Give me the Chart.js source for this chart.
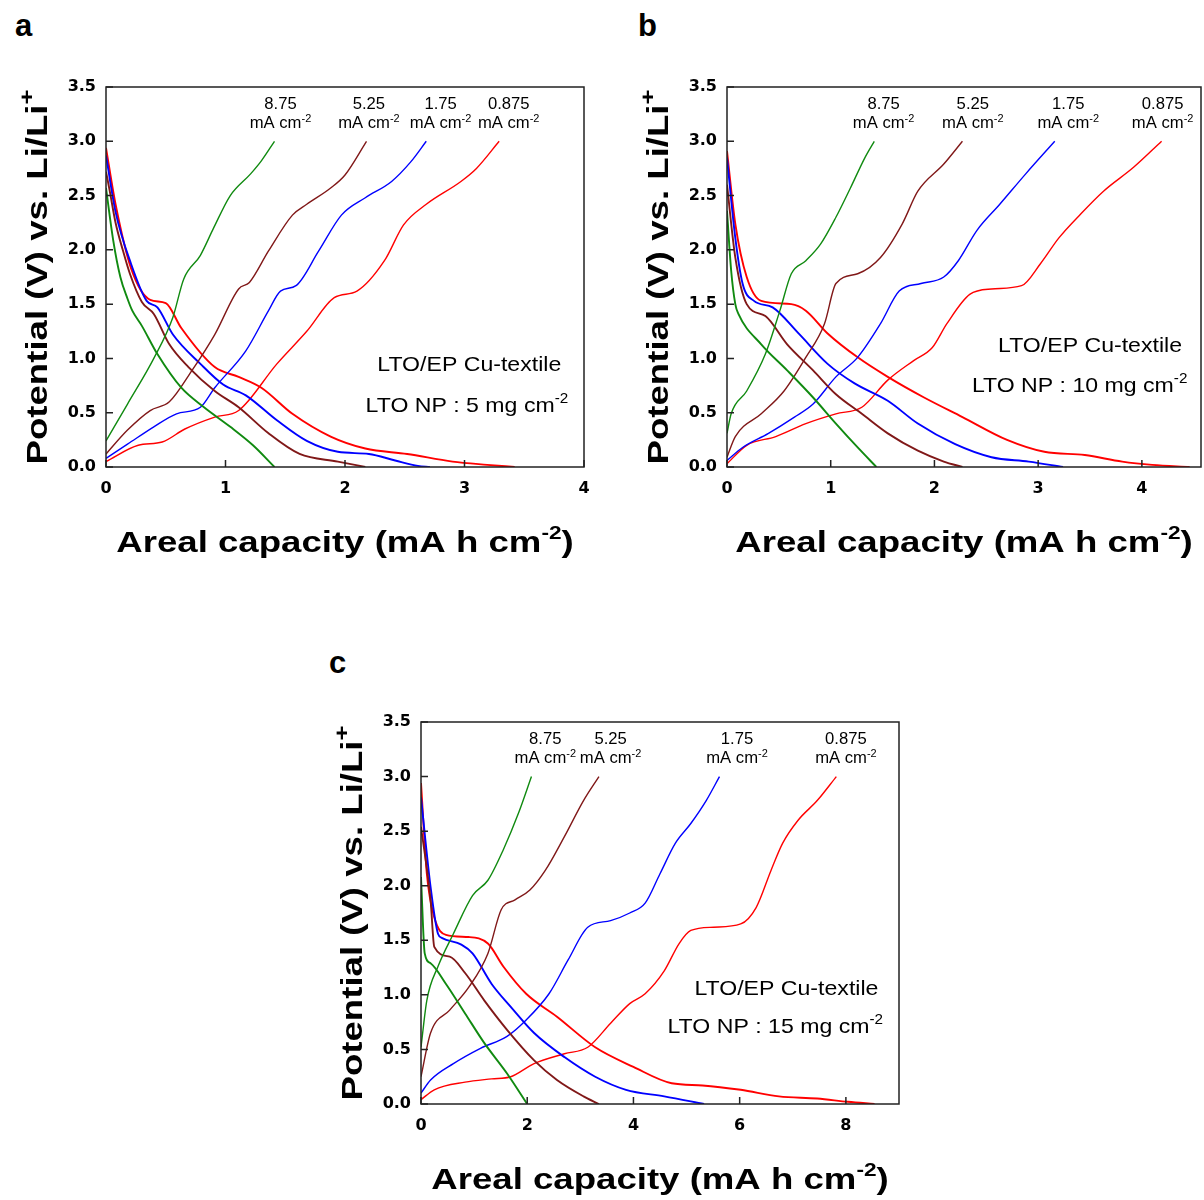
<!DOCTYPE html>
<html>
<head>
<meta charset="utf-8">
<script src="https://cdn.jsdelivr.net/npm/chart.js@4.4.1/dist/chart.umd.min.js"></script>
<style>
  body { margin: 0; background: #fff; width: 1204px; height: 1200px; position: relative; overflow: hidden; }
  .panel { position: absolute; }
  .tag { position: absolute; font: bold 31px "Liberation Sans", Arial, sans-serif; line-height: 1; }
</style>
</head>
<body>
<div class="tag" style="left:15px;top:10px">a</div>
<div class="tag" style="left:638px;top:10px">b</div>
<div class="tag" style="left:329px;top:647px">c</div>

<div class="panel" style="left:0;top:0"><canvas id="chart-a" width="602" height="580"></canvas></div>
<div class="panel" style="left:610px;top:0"><canvas id="chart-b" width="594" height="580"></canvas></div>
<div class="panel" style="left:300px;top:640px"><canvas id="chart-c" width="620" height="560"></canvas></div>

<script>
// Current densities (mA cm-2), same order in every panel
const rates = ['8.75', '5.25', '1.75', '0.875'];
const yTicks = [0, 0.5, 1, 1.5, 2, 2.5, 3, 3.5];

// Panel a : 5 mg cm-2  ([capacity, potential])
const aGreenDis = [[0,2.57],[0.06,2.09],[0.12,1.75],[0.18,1.55],[0.22,1.44],[0.3,1.3],[0.43,1.04],[0.63,0.73],[0.82,0.55],[1.04,0.37],[1.23,0.2],[1.41,0]];
const aGreenChg = [[0,0.24],[0.18,0.58],[0.4,1.0],[0.56,1.38],[0.65,1.73],[0.79,1.95],[0.9,2.2],[1.04,2.5],[1.21,2.7],[1.3,2.82],[1.41,3.0]];
const aBrownDis = [[0,2.72],[0.03,2.55],[0.08,2.25],[0.14,2.0],[0.2,1.78],[0.3,1.52],[0.4,1.41],[0.53,1.13],[0.69,0.92],[0.91,0.7],[1.11,0.55],[1.36,0.31],[1.62,0.12],[1.94,0.05],[2.17,0]];
const aBrownChg = [[0,0.12],[0.18,0.34],[0.37,0.52],[0.53,0.6],[0.72,0.89],[0.91,1.22],[1.11,1.64],[1.2,1.7],[1.36,1.99],[1.56,2.32],[1.68,2.42],[1.88,2.57],[2.0,2.69],[2.18,3.0]];
const aBlueDis = [[0,2.87],[0.08,2.35],[0.21,1.87],[0.34,1.53],[0.43,1.47],[0.56,1.22],[0.79,0.95],[0.98,0.76],[1.17,0.66],[1.43,0.43],[1.68,0.24],[1.94,0.14],[2.2,0.12],[2.42,0.06],[2.61,0.01],[2.71,0]];
const aBlueChg = [[0,0.08],[0.18,0.21],[0.4,0.37],[0.59,0.49],[0.79,0.55],[0.91,0.73],[1.17,1.07],[1.36,1.44],[1.46,1.62],[1.59,1.67],[1.78,1.99],[1.97,2.32],[2.17,2.48],[2.39,2.63],[2.55,2.81],[2.68,3.0]];
const aRedDis = [[0,2.94],[0.08,2.42],[0.21,1.83],[0.37,1.54],[0.5,1.51],[0.63,1.28],[0.91,0.92],[1.11,0.83],[1.3,0.73],[1.56,0.49],[1.88,0.28],[2.17,0.17],[2.52,0.12],[2.9,0.05],[3.19,0.02],[3.42,0]];
const aRedChg = [[0,0.05],[0.27,0.2],[0.47,0.23],[0.66,0.35],[0.91,0.46],[1.11,0.52],[1.43,0.95],[1.68,1.25],[1.91,1.56],[2.1,1.62],[2.33,1.9],[2.49,2.23],[2.68,2.42],[2.97,2.63],[3.1,2.75],[3.29,3.0]];

// Panel b : 10 mg cm-2
const bGreenDis = [[0,2.36],[0.04,1.81],[0.08,1.5],[0.11,1.41],[0.33,1.13],[0.58,0.89],[0.83,0.64],[1.05,0.4],[1.26,0.18],[1.44,0]];
const bGreenChg = [[0,0.31],[0.04,0.49],[0.19,0.7],[0.37,1.04],[0.51,1.44],[0.62,1.78],[0.76,1.9],[0.9,2.05],[1.05,2.3],[1.19,2.57],[1.33,2.85],[1.42,3.0]];
const bBrownDis = [[0,2.6],[0.08,1.93],[0.19,1.5],[0.37,1.39],[0.58,1.13],[0.83,0.89],[1.05,0.67],[1.3,0.49],[1.55,0.31],[1.84,0.15],[2.09,0.05],[2.27,0]];
const bBrownChg = [[0,0.09],[0.08,0.28],[0.33,0.49],[0.55,0.7],[0.76,1.01],[0.94,1.32],[1.05,1.69],[1.26,1.78],[1.48,1.93],[1.69,2.24],[1.84,2.54],[2.09,2.79],[2.27,3.0]];
const bBlueDis = [[0,2.85],[0.08,2.11],[0.15,1.69],[0.26,1.53],[0.44,1.47],[0.69,1.23],[0.97,0.95],[1.23,0.77],[1.55,0.61],[1.84,0.4],[2.2,0.21],[2.55,0.09],[2.91,0.05],[3.24,0]];
const bBlueChg = [[0,0.06],[0.15,0.18],[0.4,0.31],[0.65,0.46],[0.83,0.58],[1.05,0.83],[1.26,1.01],[1.48,1.32],[1.66,1.62],[1.87,1.69],[2.09,1.75],[2.23,1.9],[2.41,2.18],[2.63,2.42],[2.88,2.7],[3.16,3.0]];
const bRedDis = [[0,2.91],[0.08,2.24],[0.19,1.75],[0.33,1.53],[0.62,1.5],[0.76,1.44],[0.97,1.23],[1.26,1.01],[1.55,0.83],[1.9,0.64],[2.27,0.46],[2.7,0.25],[3.06,0.14],[3.45,0.11],[3.81,0.05],[4.1,0.02],[4.46,0]];
const bRedChg = [[0,0.03],[0.19,0.2],[0.47,0.28],[0.76,0.4],[1.05,0.49],[1.3,0.55],[1.55,0.8],[1.8,0.98],[1.98,1.1],[2.12,1.32],[2.34,1.59],[2.55,1.64],[2.84,1.67],[3.02,1.87],[3.2,2.11],[3.41,2.33],[3.63,2.54],[3.92,2.76],[4.19,3.0]];

// Panel c : 15 mg cm-2
const cGreenDis = [[0,2.08],[0.07,1.38],[0.18,1.29],[0.47,1.1],[0.83,0.83],[1.19,0.56],[1.62,0.28],[2.0,0]];
const cGreenChg = [[0,0.52],[0.11,0.95],[0.32,1.26],[0.61,1.56],[0.97,1.91],[1.26,2.05],[1.55,2.33],[1.84,2.67],[2.08,3.0]];
const cBrownDis = [[0,2.54],[0.18,1.87],[0.25,1.44],[0.54,1.35],[0.83,1.2],[1.19,0.95],[1.62,0.68],[2.13,0.4],[2.56,0.22],[3.06,0.07],[3.35,0]];
const cBrownChg = [[0,0.25],[0.18,0.65],[0.54,0.86],[0.9,1.07],[1.26,1.38],[1.51,1.78],[1.77,1.87],[2.05,1.96],[2.34,2.14],[2.7,2.45],[3.06,2.78],[3.35,3.0]];
const cBlueDis = [[0,2.81],[0.18,1.99],[0.32,1.56],[0.4,1.52],[0.76,1.46],[0.97,1.38],[1.33,1.1],[1.69,0.89],[2.13,0.65],[2.7,0.43],[3.28,0.25],[3.86,0.13],[4.58,0.07],[5.33,0]];
const cBlueChg = [[0,0.1],[0.18,0.22],[0.61,0.37],[1.12,0.51],[1.62,0.62],[1.98,0.77],[2.41,1.01],[2.77,1.32],[3.14,1.62],[3.57,1.68],[3.93,1.75],[4.22,1.84],[4.5,2.11],[4.79,2.39],[5.08,2.57],[5.37,2.78],[5.62,3.0]];
const cRedDis = [[0,2.94],[0.11,2.11],[0.25,1.71],[0.47,1.55],[0.9,1.53],[1.26,1.47],[1.55,1.26],[1.98,1.01],[2.56,0.8],[3.28,0.52],[4.0,0.34],[4.72,0.19],[5.3,0.17],[6.02,0.13],[6.74,0.07],[7.46,0.05],[8.04,0.02],[8.54,0]];
const cRedChg = [[0,0.04],[0.25,0.13],[0.83,0.2],[1.33,0.23],[1.69,0.25],[2.13,0.37],[2.7,0.46],[3.14,0.52],[3.57,0.74],[3.93,0.92],[4.22,1.01],[4.58,1.22],[4.86,1.47],[5.08,1.59],[5.51,1.62],[6.02,1.65],[6.31,1.8],[6.59,2.14],[6.81,2.39],[7.1,2.6],[7.46,2.78],[7.82,3.0]];

const colors = ['#108a10', '#801818', '#0000ff', '#ff0000'];
const FONT = '"Liberation Sans", Arial, sans-serif';

// Text with superscripts: parts = [[text, isSup], ...]
// stretch widens the text along its reading direction (the figure is a bit wide)
function drawRich(ctx, parts, x, y, size, weight, align, stretch = 1, supRatio = 0.62) {
    const supSize = size * supRatio;
    let w = 0;
    parts.forEach(([t, sup]) => {
        ctx.font = `${weight} ${sup ? supSize : size}px ${FONT}`;
        w += ctx.measureText(t).width;
    });
    ctx.save();
    ctx.translate(x, y);
    ctx.scale(stretch, 1);
    let cx = align === 'center' ? -w / 2 : (align === 'right' ? -w : 0);
    ctx.textAlign = 'left';
    ctx.textBaseline = 'alphabetic';
    parts.forEach(([t, sup]) => {
        ctx.font = `${weight} ${sup ? supSize : size}px ${FONT}`;
        ctx.fillText(t, cx, sup ? -size * 0.42 : 0);
        cx += ctx.measureText(t).width;
    });
    ctx.restore();
}

const xTitle = [['Areal capacity (mA h cm', false], ['-2', true], [')', false]];
const yTitle = [['Potential (V) vs. Li/Li', false], ['+', true]];
const unitLine = [['mA cm', false], ['-2', true]];

const decorPlugin = {
    id: 'decor',
    afterDatasetsDraw(chart) {
        const { ctx, chartArea: a, scales: { x, y } } = chart;
        const cfg = chart.options.plugins.decor;
        ctx.save();
        ctx.fillStyle = '#000';
        ctx.strokeStyle = '#222';
        ctx.lineWidth = 1.5;
        ctx.strokeRect(a.left, a.top, a.right - a.left, a.bottom - a.top);

        // inward tick marks
        ctx.beginPath();
        x.ticks.forEach(t => {
            const px = x.getPixelForValue(t.value);
            ctx.moveTo(px, a.bottom);
            ctx.lineTo(px, a.bottom - 7);
        });
        y.ticks.forEach(t => {
            const py = y.getPixelForValue(t.value);
            ctx.moveTo(a.left, py);
            ctx.lineTo(a.left + 7, py);
        });
        ctx.stroke();

        // current density labels above each charge curve
        rates.forEach((r, i) => {
            const px = x.getPixelForValue(cfg.labelX[i]);
            drawRich(ctx, [[r, false]], px, y.getPixelForValue(3.3), 16, 'normal', 'center', 1.04);
            drawRich(ctx, unitLine, px, y.getPixelForValue(3.12), 16, 'normal', 'center', 1.04, 0.66);
        });

        // sample notes
        drawRich(ctx, [['LTO/EP Cu-textile', false]], x.getPixelForValue(cfg.note1[0]),
            y.getPixelForValue(cfg.note1[1]), 21, 'normal', 'center', 1.1);
        drawRich(ctx, [['LTO NP : ' + cfg.loading + ' mg cm', false], ['-2', true]],
            x.getPixelForValue(cfg.note2[0]), y.getPixelForValue(cfg.note2[1]), 21, 'normal', 'center', 1.1, 0.66);

        // axis titles
        drawRich(ctx, xTitle, (a.left + a.right) / 2, a.bottom + 85, 30, 'bold', 'center', 1.22);

        ctx.save();
        ctx.translate(a.left - 59, (a.top + a.bottom) / 2);
        ctx.rotate(-Math.PI / 2);
        drawRich(ctx, yTitle, 0, 0, 30, 'bold', 'center', 1.22, 0.7);
        ctx.restore();

        ctx.restore();
    }
};

function makeChart(id, curves, p) {
    const datasets = [];
    curves.forEach((pair, i) => {
        pair.forEach((pts, k) => {
            datasets.push({
                data: pts.map(([cx, cy]) => ({ x: cx, y: cy })),
                borderColor: colors[i],
                borderWidth: k === 0 ? 1.9 : 1.4,
                pointRadius: 0,
                cubicInterpolationMode: 'monotone',
                fill: false
            });
        });
    });
    const tickFont = { family: '"DejaVu Sans", sans-serif', size: 16, weight: 'bold' };
    return new Chart(document.getElementById(id), {
        type: 'line',
        data: { datasets },
        options: {
            responsive: false,
            animation: false,
            layout: { padding: { top: p.padTop, right: p.padRight, left: 0, bottom: 0 } },
            plugins: {
                legend: { display: false },
                tooltip: { enabled: false },
                decor: p
            },
            scales: {
                x: {
                    type: 'linear', min: 0, max: p.xMax,
                    afterFit: s => { s.height = p.xAxisH; },
                    ticks: { stepSize: p.xStep, includeBounds: false, font: tickFont, color: '#000', padding: 12, maxRotation: 0 },
                    grid: { display: false, drawTicks: false },
                    border: { display: false }
                },
                y: {
                    type: 'linear', min: 0, max: 3.5,
                    afterFit: s => { s.width = p.yAxisW; },
                    afterBuildTicks: s => { s.ticks = yTicks.map(v => ({ value: v })); },
                    ticks: { font: tickFont, color: '#000', padding: 10, callback: v => v.toFixed(1) },
                    grid: { display: false, drawTicks: false },
                    border: { display: false }
                }
            }
        },
        plugins: [decorPlugin]
    });
}

makeChart('chart-a',
    [[aGreenDis, aGreenChg], [aBrownDis, aBrownChg], [aBlueDis, aBlueChg], [aRedDis, aRedChg]],
    { xMax: 4, xStep: 1, padTop: 87, padRight: 18, yAxisW: 106, xAxisH: 113,
      labelX: [1.46, 2.2, 2.8, 3.37], note1: [3.04, 0.88], note2: [3.02, 0.51], loading: '5' });

makeChart('chart-b',
    [[bGreenDis, bGreenChg], [bBrownDis, bBrownChg], [bBlueDis, bBlueChg], [bRedDis, bRedChg]],
    { xMax: 4.57, xStep: 1, padTop: 87, padRight: 3, yAxisW: 117, xAxisH: 113,
      labelX: [1.51, 2.37, 3.29, 4.2], note1: [3.5, 1.06], note2: [3.4, 0.69], loading: '10' });

makeChart('chart-c',
    [[cGreenDis, cGreenChg], [cBrownDis, cBrownChg], [cBlueDis, cBlueChg], [cRedDis, cRedChg]],
    { xMax: 9, xStep: 2, padTop: 82, padRight: 21, yAxisW: 121, xAxisH: 96,
      labelX: [2.34, 3.57, 5.95, 8.0], note1: [6.88, 1.0], note2: [6.67, 0.65], loading: '15' });
</script>
</body>
</html>
